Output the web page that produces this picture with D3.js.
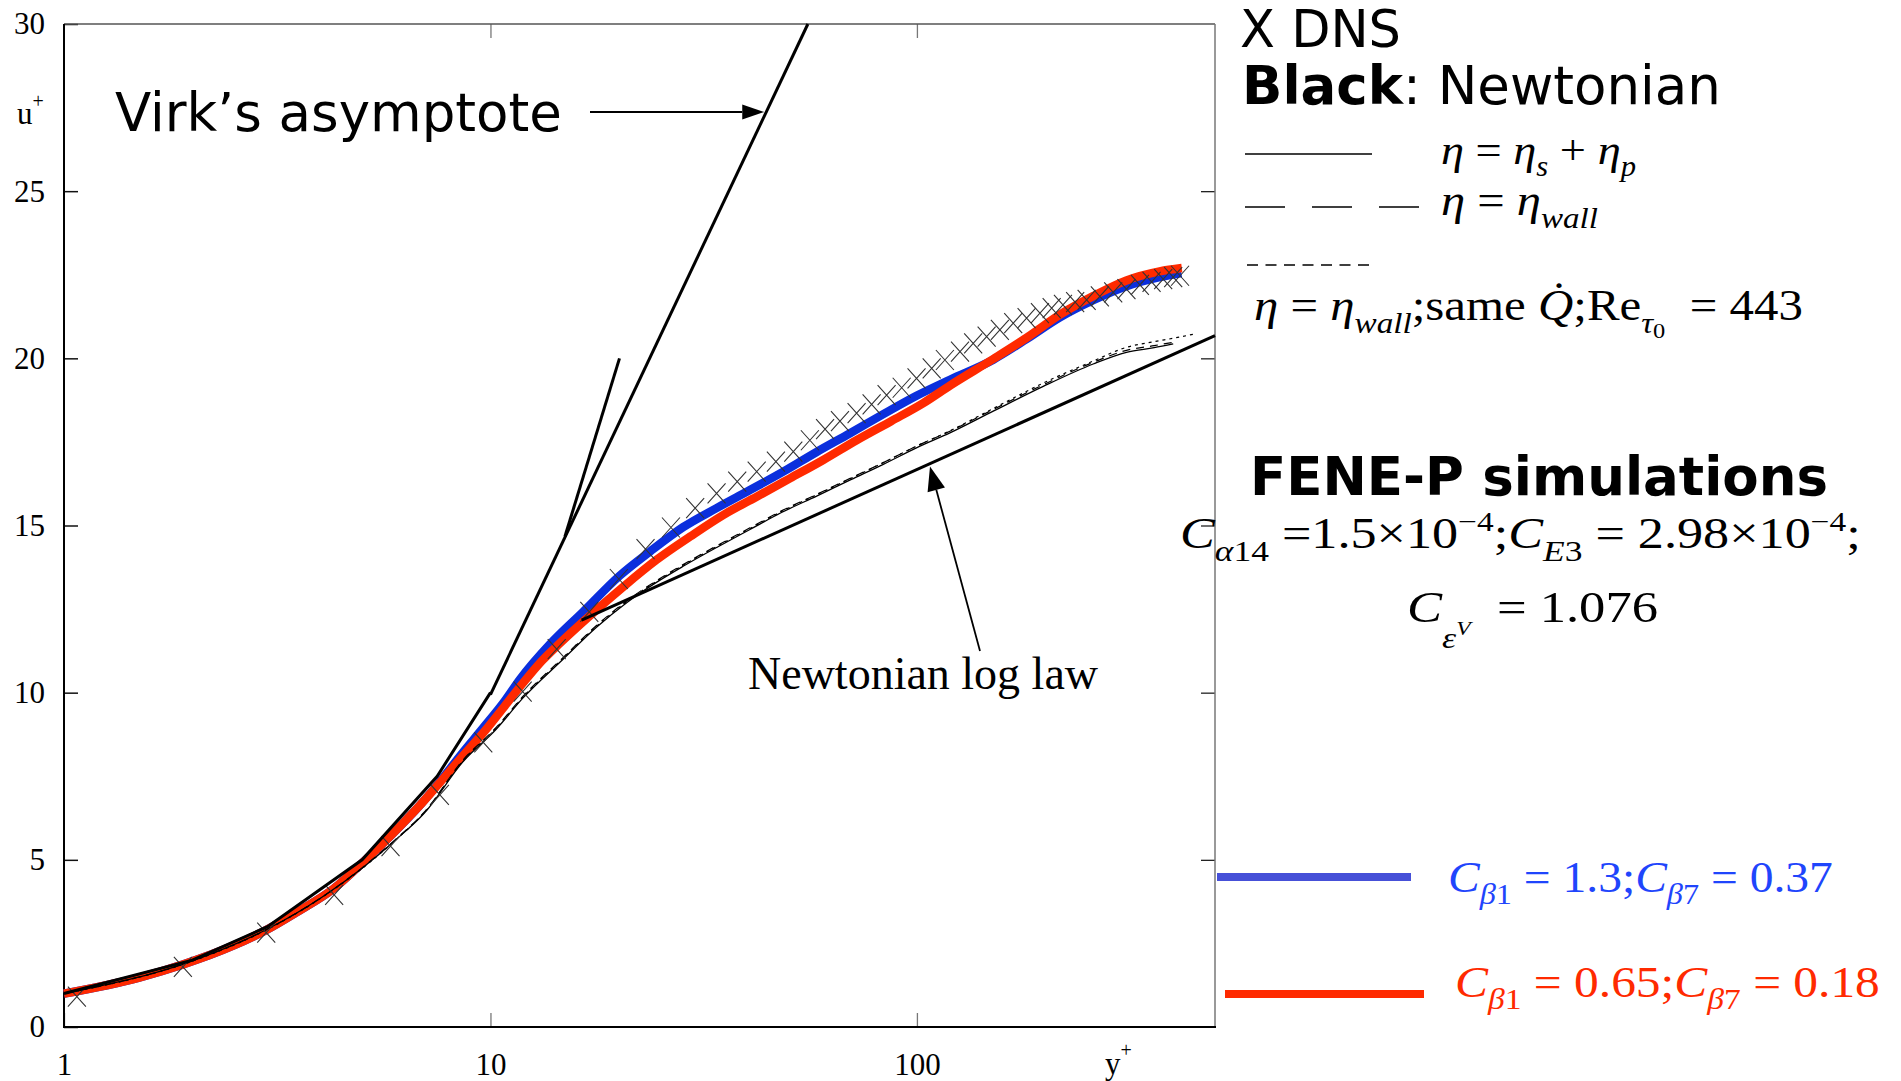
<!DOCTYPE html>
<html>
<head>
<meta charset="utf-8">
<script src="https://cdn.jsdelivr.net/npm/d3@7"></script>
<style>
  html, body { margin: 0; background: #fff; }
  text { white-space: pre; }
</style>
</head>
<body>
<svg id="chart" width="1901" height="1081"></svg>
<script>
// ---------- axis ticks ----------
const xTickValues = [1, 10, 100];
const yTickValues = [0, 5, 10, 15, 20, 25, 30];

// ---------- DNS (Newtonian), crosses ----------
const dnsYPlus = [1.072, 1.90, 2.98, 4.30, 5.83, 7.61, 9.62, 11.9, 14.3, 17.05, 20.0, 23.1, 26.5, 30.2,
  33.9, 37.9, 42.1, 46.7, 51.3, 56.1, 60.9, 66.0, 72.2, 78.3, 84.9, 92.1, 99.8, 108.3, 116.3, 126.2,
  135.5, 145.7, 156.5, 168.2, 180.8, 194.3, 207, 220, 235, 250, 268.5, 288.6, 310, 333.3, 355, 378, 399, 414];
const dnsU = [0.91, 1.80, 2.82, 3.95, 5.41, 6.94, 8.51, 10.03, 11.3, 12.42, 13.40, 14.29, 14.94, 15.52,
  15.96, 16.31, 16.61, 16.91, 17.21, 17.55, 17.88, 18.12, 18.36, 18.62, 18.9, 19.12, 19.4, 19.7, 19.95, 20.2,
  20.45, 20.65, 20.85, 21.05, 21.2, 21.35, 21.5, 21.6, 21.68, 21.75, 21.85, 21.97, 22.07, 22.2, 22.29, 22.37, 22.43, 22.47];

// ---------- Newtonian simulations (thin black) ----------
const newtYPlus = [1, 2, 3, 4, 5, 6, 7, 8.64, 10.3, 11.94, 14.8, 17.7, 20.9, 24.5, 28.3, 34, 40.6, 48,
  58.2, 70, 83.4, 100, 119.5, 151, 197.8, 259, 310, 360, 399];
const newtU = [1.0, 1.98, 2.93, 3.86, 4.75, 5.6, 6.4, 7.95, 8.9, 9.85, 11.0, 11.95, 12.7, 13.3, 13.78, 14.35,
  14.88, 15.38, 15.88, 16.37, 16.83, 17.33, 17.77, 18.42, 19.16, 19.83, 20.18, 20.32, 20.43];
const newtWallU = [1.0, 1.98, 2.93, 3.86, 4.76, 5.62, 6.43, 8.0, 8.95, 9.9, 11.05, 12.0, 12.75, 13.35, 13.83, 14.4,
  14.93, 15.43, 15.93, 16.42, 16.88, 17.38, 17.82, 18.47, 19.21, 19.88, 20.24, 20.38, 20.48];
const newtQYPlus = [1, 2, 3, 4, 5, 6, 7, 8.64, 10.3, 11.94, 14.8, 17.7, 20.9, 24.5, 28.3, 34, 40.6, 48,
  58.2, 70, 83.4, 100, 119.5, 151, 197.8, 259, 310, 360, 399, 444.6];
const newtQU = [1.0, 1.97, 2.92, 3.85, 4.74, 5.6, 6.42, 7.98, 8.93, 9.88, 11.03, 11.98, 12.73, 13.33, 13.81, 14.38,
  14.91, 15.41, 15.92, 16.41, 16.88, 17.38, 17.83, 18.5, 19.26, 19.92, 20.33, 20.5, 20.6, 20.72];

// ---------- FENE-P simulations ----------
const blueYPlus = [1, 1.5, 1.9, 2.5, 2.98, 3.5, 4.3, 5.0, 5.81, 6.82, 7.48, 8.6, 9.62, 10.8, 11.73, 13.79,
  16.5, 20.1, 23.66, 28.3, 33.9, 40.6, 48.6, 58.2, 69.7, 83.4, 99.8, 119.5, 151, 181, 216, 259, 310, 371, 417];
const blueU = [1.0, 1.48, 1.87, 2.44, 2.9, 3.42, 4.15, 4.9, 5.7, 6.62, 7.22, 8.2, 8.95, 9.75, 10.4, 11.45,
  12.42, 13.5, 14.22, 14.95, 15.52, 16.06, 16.61, 17.2, 17.76, 18.33, 18.88, 19.36, 19.96, 20.58, 21.22, 21.74, 22.16, 22.43, 22.55];
const redYPlus = [1, 1.5, 1.9, 2.5, 2.98, 3.5, 4.3, 5.0, 5.81, 6.82, 7.48, 8.6, 9.62, 10.8, 11.94, 13.2,
  14.55, 17.1, 20.5, 24.5, 29.4, 35.2, 42.1, 50.4, 60.3, 72.2, 87, 103.5, 120, 151, 181, 216, 259, 310, 371, 418];
const redU = [1.0, 1.48, 1.87, 2.44, 2.9, 3.42, 4.15, 4.9, 5.7, 6.62, 7.2, 8.1, 8.8, 9.6, 10.3, 10.95,
  11.48, 12.3, 13.17, 13.97, 14.67, 15.32, 15.86, 16.41, 16.96, 17.55, 18.12, 18.66, 19.2, 19.98, 20.62, 21.3, 21.86, 22.33, 22.6, 22.7];

// ---------- reference lines ----------
const viscousYPlus = [1, 2, 3, 5, 7.5, 10];
const viscousU = [1, 2, 3, 5, 7.5, 10];
const virkYPlus = [10, 55.5];
const virkU = [9.94, 30];
const stubYPlus = [14.95, 20.07];
const stubU = [14.67, 20.0];
const logLawYPlus = [16.36, 500];
const logLawU = [12.17, 20.68];

const zip = (a, b) => a.map((v, i) => [v, b[i]]);

const svg = d3.select("#chart");
svg.append("rect").attr("width", 1901).attr("height", 1081).attr("fill", "#fff");

const x = d3.scaleLog().domain([1, 500]).range([64, 1215]);
const y = d3.scaleLinear().domain([0, 30]).range([1027, 24]);

const serif = "'Liberation Serif', 'Times New Roman', serif";
const sans = "'DejaVu Sans', Verdana, sans-serif";

const smooth = d3.line().x(d => x(d[0])).y(d => y(d[1])).curve(d3.curveMonotoneX);
const straight = d3.line().x(d => x(d[0])).y(d => y(d[1]));

// ---------- axes ----------
const axisStyle = g => {
  g.select(".domain").remove();
  g.selectAll("text").attr("font-family", serif).attr("font-size", 31).attr("fill", "#000");
};
svg.append("g").attr("transform", "translate(64,0)")
  .call(d3.axisLeft(y).tickValues(yTickValues).tickSize(-14).tickPadding(19).tickFormat(d3.format("d")))
  .call(axisStyle)
  .call(g => g.selectAll("line").attr("stroke", "#111").attr("stroke-width", 1.5));
svg.append("g").attr("transform", "translate(1215,0)")
  .call(d3.axisRight(y).tickValues(yTickValues.slice(1, -1)).tickSize(-14).tickFormat(""))
  .call(axisStyle)
  .call(g => g.selectAll("line").attr("stroke", "#222").attr("stroke-width", 1.3));
svg.append("g").attr("transform", "translate(0,1027)")
  .call(d3.axisBottom(x).tickValues(xTickValues).tickSize(-14).tickPadding(26).tickFormat(d3.format("d")))
  .call(axisStyle)
  .call(g => g.selectAll("line").attr("stroke", "#777").attr("stroke-width", 1.3));
svg.append("g").attr("transform", "translate(0,24)")
  .call(d3.axisTop(x).tickValues(xTickValues.slice(1)).tickSize(-14).tickFormat(""))
  .call(axisStyle)
  .call(g => g.selectAll("line").attr("stroke", "#777").attr("stroke-width", 1.3));

// frame
svg.append("line").attr("x1", 64).attr("x2", 1215).attr("y1", 24).attr("y2", 24).attr("stroke", "#555").attr("stroke-width", 1.5);
svg.append("line").attr("x1", 1215).attr("x2", 1215).attr("y1", 24).attr("y2", 1027).attr("stroke", "#777").attr("stroke-width", 1.5);
svg.append("line").attr("x1", 64).attr("x2", 64).attr("y1", 24).attr("y2", 1027).attr("stroke", "#000").attr("stroke-width", 2);
svg.append("line").attr("x1", 63).attr("x2", 1216).attr("y1", 1027).attr("y2", 1027).attr("stroke", "#000").attr("stroke-width", 2);

// axis titles
const uLab = svg.append("text").attr("x", 17).attr("y", 124).attr("font-family", serif).attr("font-size", 31);
uLab.append("tspan").text("u");
uLab.append("tspan").attr("dy", -16).attr("font-size", 20).text("+");
const yLab = svg.append("text").attr("x", 1105).attr("y", 1074).attr("font-family", serif).attr("font-size", 31);
yLab.append("tspan").text("y");
yLab.append("tspan").attr("dy", -17).attr("font-size", 20).text("+");

// ---------- curves ----------
const plot = svg.append("g");
plot.append("path").attr("d", smooth(zip(blueYPlus, blueU))).attr("fill", "none")
  .attr("stroke", "#0b2fdd").attr("stroke-width", 8.5).attr("stroke-linejoin", "round");
plot.append("path").attr("d", smooth(zip(redYPlus, redU))).attr("fill", "none")
  .attr("stroke", "#ff2a00").attr("stroke-width", 8.5).attr("stroke-linejoin", "round");

// Newtonian thin curves
plot.append("path").attr("d", smooth(zip(newtYPlus, newtU))).attr("fill", "none")
  .attr("stroke", "#000").attr("stroke-width", 1.3);
plot.append("path").attr("d", smooth(zip(newtYPlus, newtWallU))).attr("fill", "none")
  .attr("stroke", "#000").attr("stroke-width", 1.2).attr("stroke-dasharray", "8,6");
plot.append("path").attr("d", smooth(zip(newtQYPlus, newtQU))).attr("fill", "none")
  .attr("stroke", "#000").attr("stroke-width", 1.2).attr("stroke-dasharray", "3,4");

// DNS crosses
plot.selectAll(".dns").data(zip(dnsYPlus, dnsU)).join("path").attr("class", "dns")
  .attr("transform", d => `translate(${x(d[0])},${y(d[1])})`)
  .attr("d", "M-9,-10L9,10M-9,10L9,-10")
  .attr("stroke", "#333").attr("stroke-width", 1.1).attr("fill", "none");

// reference lines
[[viscousYPlus, viscousU], [virkYPlus, virkU], [stubYPlus, stubU], [logLawYPlus, logLawU]].forEach(([a, b]) => {
  plot.append("path").attr("d", straight(zip(a, b))).attr("fill", "none")
    .attr("stroke", "#000").attr("stroke-width", 3).attr("stroke-linecap", "butt");
});

// ---------- annotations ----------
function arrow(x1, y1, x2, y2, headLen, headW, width) {
  const dx = x2 - x1, dy = y2 - y1, L = Math.hypot(dx, dy);
  const ux = dx / L, uy = dy / L;
  const bx = x2 - ux * headLen, by = y2 - uy * headLen;
  svg.append("line").attr("x1", x1).attr("y1", y1).attr("x2", bx).attr("y2", by)
    .attr("stroke", "#000").attr("stroke-width", width);
  svg.append("path").attr("d", `M${x2},${y2}L${bx - uy * headW / 2},${by + ux * headW / 2}L${bx + uy * headW / 2},${by - ux * headW / 2}Z`)
    .attr("fill", "#000");
}
// point on a straight reference line (in pixel space) at a given pixel y or x
function onLineAtY(ap, bp, py) {
  const [x1, y1] = [x(ap[0]), y(ap[1])], [x2, y2] = [x(bp[0]), y(bp[1])];
  return x1 + (py - y1) / (y2 - y1) * (x2 - x1);
}
function onLineAtX(ap, bp, px) {
  const [x1, y1] = [x(ap[0]), y(ap[1])], [x2, y2] = [x(bp[0]), y(bp[1])];
  return y1 + (px - x1) / (x2 - x1) * (y2 - y1);
}

svg.append("text").attr("x", 115).attr("y", 131).attr("font-family", sans).attr("font-size", 53)
  .text("Virk\u2019s asymptote");
const virkTipX = onLineAtY([virkYPlus[0], virkU[0]], [virkYPlus[1], virkU[1]], 112) - 2;
arrow(590, 112, virkTipX, 112, 22, 15, 2);

svg.append("text").attr("x", 748).attr("y", 689).attr("font-family", serif).attr("font-size", 46)
  .text("Newtonian log law");
const lawTipY = onLineAtX([logLawYPlus[0], logLawU[0]], [logLawYPlus[1], logLawU[1]], 930) + 3;
arrow(980, 651, 930, lawTipY, 24, 18, 1.8);

// ---------- legend / notes ----------
svg.append("text").attr("x", 1240).attr("y", 47).attr("font-family", sans).attr("font-size", 51).text("X DNS");
const bl = svg.append("text").attr("x", 1242).attr("y", 104).attr("font-family", sans).attr("font-size", 53);
bl.append("tspan").attr("font-weight", "bold").text("Black");
bl.append("tspan").text(": Newtonian");

// equation text built from tspans; stretched horizontally to span x0..x1
function mathText(x0, x1, y0, size, parts, fill) {
  const t = svg.append("text").attr("x", x0).attr("y", y0).attr("font-family", serif)
    .attr("font-size", size).attr("fill", fill || "#000");
  let cur = 0;
  parts.forEach(p => {
    const off = (p.off || 0) * size;
    const ts = t.append("tspan").attr("dy", off - cur).text(p.t);
    if (p.dx) ts.attr("dx", p.dx);
    cur = off;
    if (p.s) ts.attr("font-size", size * p.s);
    if (p.i) ts.attr("font-style", "italic");
  });
  const bb = t.node().getBBox();
  const sx = (x1 - x0) / bb.width;
  t.attr("transform", `translate(${x0},0) scale(${sx},1) translate(${-bb.x},0)`);
  return t;
}

svg.append("line").attr("x1", 1245).attr("x2", 1372).attr("y1", 154).attr("y2", 154).attr("stroke", "#000").attr("stroke-width", 1.6);
mathText(1441, 1636, 164, 43, [{t: "\u03B7", i: 1}, {t: " = "}, {t: "\u03B7", i: 1}, {t: "s", i: 1, off: .28, s: .66},
  {t: " + "}, {t: "\u03B7", i: 1}, {t: "p", i: 1, off: .28, s: .66}]);

svg.append("line").attr("x1", 1245).attr("x2", 1420).attr("y1", 207).attr("y2", 207).attr("stroke", "#000")
  .attr("stroke-width", 1.6).attr("stroke-dasharray", "40,27");
mathText(1441, 1598, 215, 44, [{t: "\u03B7", i: 1}, {t: " = "}, {t: "\u03B7", i: 1}, {t: "wall", i: 1, off: .3, s: .68}]);

svg.append("line").attr("x1", 1247).attr("x2", 1371).attr("y1", 265).attr("y2", 265).attr("stroke", "#000")
  .attr("stroke-width", 1.4).attr("stroke-dasharray", "11,7.5");
mathText(1254, 1803, 320, 44, [{t: "\u03B7", i: 1}, {t: " = "}, {t: "\u03B7", i: 1}, {t: "wall", i: 1, off: .3, s: .68},
  {t: ";same "}, {t: "Q\u0307", i: 1}, {t: ";Re"}, {t: "\u03C4", i: 1, off: .3, s: .68}, {t: "0", off: .42, s: .5},
  {t: "  = 443"}]);

svg.append("text").attr("x", 1250).attr("y", 495).attr("font-family", sans).attr("font-size", 53)
  .attr("font-weight", "bold").text("FENE-P simulations");
mathText(1180, 1861, 548, 44, [{t: "C", i: 1}, {t: "\u03B1", i: 1, off: .3, s: .68}, {t: "14", off: .3, s: .68},
  {t: " =1.5\u00D710"}, {t: "\u22124", off: -.38, s: .64}, {t: ";"}, {t: "C", i: 1}, {t: "E", i: 1, off: .3, s: .68},
  {t: "3", off: .3, s: .68}, {t: " = 2.98\u00D710"}, {t: "\u22124", off: -.38, s: .64}, {t: ";"}]);
mathText(1407, 1658, 622, 44, [{t: "C", i: 1}, {t: "\u03B5", i: 1, off: .6, s: .68}, {t: "V", i: 1, off: .3, s: .45},
  {t: "  = 1.076"}]);

svg.append("line").attr("x1", 1217).attr("x2", 1411).attr("y1", 877).attr("y2", 877).attr("stroke", "#4650d8").attr("stroke-width", 8);
mathText(1448, 1833, 892, 44, [{t: "C", i: 1}, {t: "\u03B2", i: 1, off: .27, s: .68}, {t: "1", off: .27, s: .68},
  {t: " = 1.3;"}, {t: "C", i: 1}, {t: "\u03B2", i: 1, off: .27, s: .68}, {t: "7", off: .27, s: .68}, {t: " = 0.37"}], "#1f45fc");

svg.append("line").attr("x1", 1225).attr("x2", 1424).attr("y1", 994).attr("y2", 994).attr("stroke", "#ff2a00").attr("stroke-width", 8);
mathText(1455, 1880, 997, 44, [{t: "C", i: 1}, {t: "\u03B2", i: 1, off: .27, s: .68}, {t: "1", off: .27, s: .68},
  {t: " = 0.65;"}, {t: "C", i: 1}, {t: "\u03B2", i: 1, off: .27, s: .68}, {t: "7", off: .27, s: .68}, {t: " = 0.18"}], "#ff2a00");
</script>
</body>
</html>
